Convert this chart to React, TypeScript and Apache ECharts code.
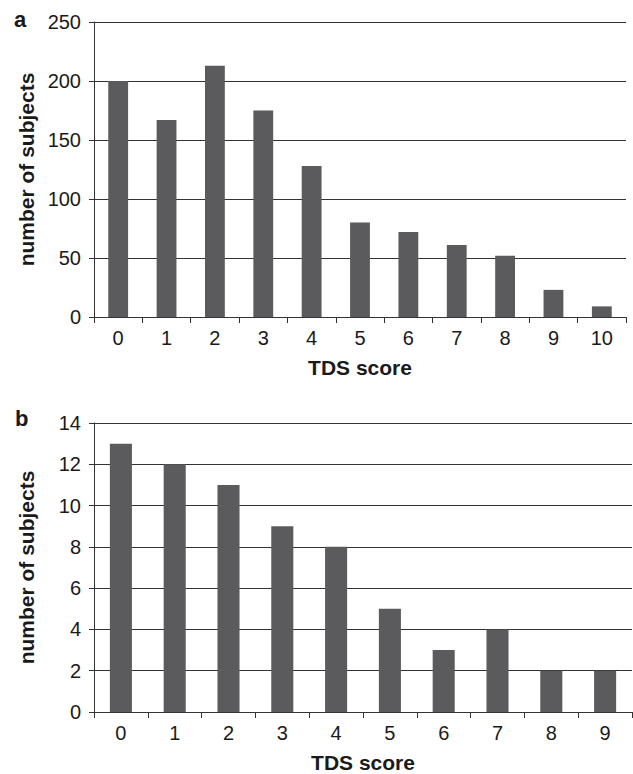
import React, { useEffect, useRef } from "react";
import * as echarts from "echarts";

const categoriesA = ["0", "1", "2", "3", "4", "5", "6", "7", "8", "9", "10"];
const valuesA = [200, 167, 213, 175, 128, 80, 72, 61, 52, 23, 9];
const categoriesB = ["0", "1", "2", "3", "4", "5", "6", "7", "8", "9"];
const valuesB = [13, 12, 11, 9, 8, 5, 3, 4, 2, 2];
const yAxisTitle = "number of subjects";
const xAxisTitle = "TDS score";
const panelLabels = ["a", "b"];

const FONT = "'Liberation Sans', Arial, Helvetica, sans-serif";
const TEXT = "#1a1a1a";
const LINE = "#333333";
const BAR = "#5b5b5d";

export default function App() {
  const ref = useRef<HTMLDivElement>(null);

  useEffect(() => {
    document.body.style.margin = "0";
    if (!ref.current) return;
    const chart = echarts.init(ref.current, undefined, { renderer: "svg" });

    const yAxisCommon = (max: number, interval: number, gridIndex: number) => ({
      type: "value" as const,
      gridIndex,
      min: 0,
      max,
      interval,
      name: yAxisTitle,
      nameLocation: "middle" as const,
      nameGap: 57,
      nameTextStyle: { fontFamily: FONT, fontSize: 21, fontWeight: "bold" as const, color: TEXT },
      axisLine: { show: true, lineStyle: { color: LINE, width: 1 } },
      axisTick: { show: true, length: 5, lineStyle: { color: LINE } },
      axisLabel: { fontFamily: FONT, fontSize: 20, color: TEXT, margin: 13 },
      splitLine: { show: true, lineStyle: { color: LINE, width: 1 } },
    });

    const xAxisCommon = (data: string[], gridIndex: number) => ({
      type: "category" as const,
      gridIndex,
      data,
      boundaryGap: true,
      name: xAxisTitle,
      nameLocation: "middle" as const,
      nameGap: 40,
      nameTextStyle: { fontFamily: FONT, fontSize: 21, fontWeight: "bold" as const, color: TEXT },
      axisLine: { show: true, lineStyle: { color: LINE, width: 1 } },
      axisTick: { show: true, length: 6, alignWithLabel: false, lineStyle: { color: LINE } },
      axisLabel: { fontFamily: FONT, fontSize: 20, color: TEXT, margin: 11, interval: 0 },
      splitLine: { show: false },
    });

    chart.setOption({
      animation: false,
      backgroundColor: "#ffffff",
      grid: [
        { left: 94, top: 22, width: 532, height: 295 },
        { left: 94, top: 423, width: 538, height: 293 },
      ],
      xAxis: [xAxisCommon(categoriesA, 0), xAxisCommon(categoriesB, 1)],
      yAxis: [yAxisCommon(250, 50, 0), yAxisCommon(14, 2, 1)],
      series: [
        {
          type: "bar",
          xAxisIndex: 0,
          yAxisIndex: 0,
          data: valuesA,
          barWidth: "41%",
          itemStyle: { color: BAR },
        },
        {
          type: "bar",
          xAxisIndex: 1,
          yAxisIndex: 1,
          data: valuesB,
          barWidth: "41%",
          itemStyle: { color: BAR },
        },
      ],
      graphic: [
        {
          type: "text",
          left: 14,
          top: 8,
          style: { text: panelLabels[0], font: `bold 22px ${FONT}`, fill: TEXT },
        },
        {
          type: "text",
          left: 15,
          top: 407,
          style: { text: panelLabels[1], font: `bold 22px ${FONT}`, fill: TEXT },
        },
      ],
    });

    return () => chart.dispose();
  }, []);

  return <div ref={ref} style={{ width: 633, height: 774 }} />;
}
